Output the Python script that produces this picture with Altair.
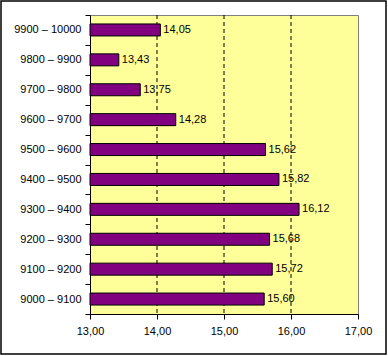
import altair as alt
import pandas as pd

categories = ["9900 – 10000", "9800 – 9900", "9700 – 9800", "9600 – 9700", "9500 – 9600",
              "9400 – 9500", "9300 – 9400", "9200 – 9300", "9100 – 9200", "9000 – 9100"]
values = [14.05, 13.43, 13.75, 14.28, 15.62, 15.82, 16.12, 15.68, 15.72, 15.60]
grid_values = [14, 15, 16]
tick_values = [13, 14, 15, 16, 17]

df = pd.DataFrame({"cat": categories, "val": values,
                   "lbl": [f"{v:.2f}".replace(".", ",") for v in values]})
grid_df = pd.DataFrame({"g": grid_values})

FONT = "Liberation Sans"
W, H = 268, 299

xscale = alt.Scale(domain=[13, 17], nice=False, zero=False)
yscale = alt.Scale(paddingInner=0, paddingOuter=0)

xaxis = alt.Axis(values=tick_values, labelExpr="replace(format(datum.value, '.2f'), '.', ',')",
                 labelFont=FONT, labelFontSize=11, labelColor="black", labelFlush=False,
                 domainColor="black", tickColor="black", tickSize=5,
                 labelPadding=6, grid=False, title=None)
yaxis = alt.Axis(tickBand="extent", labelFont=FONT, labelFontSize=11,
                 labelColor="black", domainColor="black", tickColor="black",
                 tickSize=5, labelPadding=4, grid=False, title=None)

frame = alt.Chart(pd.DataFrame({"a": [0]})).mark_rect(
    fill=None, stroke="black", strokeWidth=1.5, clip=False
).encode(x=alt.value(-89), x2=alt.value(296), y=alt.value(-14), y2=alt.value(339))

grid = alt.Chart(grid_df).mark_rule(color="black", strokeDash=[4, 3], strokeWidth=1).encode(
    x=alt.X("g:Q", scale=xscale, axis=xaxis, title=None)
)

bars = alt.Chart(df).mark_bar(color="#800080", stroke="black", strokeWidth=1, size=12).encode(
    x=alt.X("val:Q", scale=xscale, axis=xaxis, title=None),
    x2=alt.datum(13),
    y=alt.Y("cat:N", sort=categories, scale=yscale, axis=yaxis, title=None),
)

text = alt.Chart(df).mark_text(align="left", baseline="middle", dx=3, font=FONT,
                               fontSize=11, color="black").encode(
    x=alt.X("val:Q", scale=xscale, axis=xaxis, title=None),
    y=alt.Y("cat:N", sort=categories, scale=yscale, axis=yaxis, title=None),
    text="lbl:N",
)

chart = alt.layer(grid, bars, text, frame).properties(
    width=W, height=H,
    autosize=alt.AutoSizeParams(type="none"),
    padding={"left": 90, "top": 15, "right": 30, "bottom": 42},
    background="white",
).configure_view(fill="#FFFF99", stroke="#808080", strokeWidth=1)

chart.save("out.html", embed_options={"renderer": "svg", "actions": False})
